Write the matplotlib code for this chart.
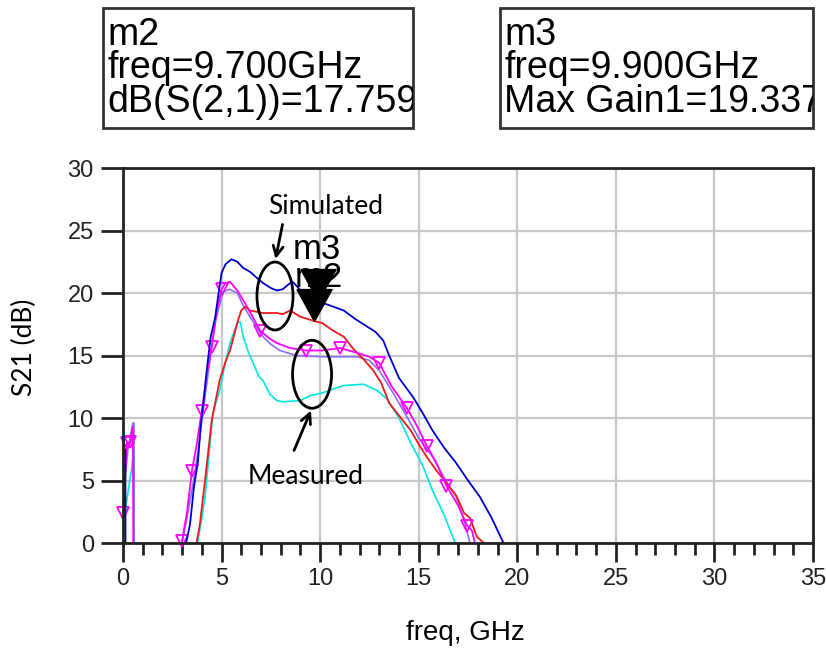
import numpy as np
import matplotlib.pyplot as plt
from matplotlib.patches import Ellipse, Rectangle
from matplotlib.path import Path
from matplotlib.transforms import Bbox, TransformedBbox

# values (freq in GHz, gain in dB); -10 = below the axis
blue_f = [0.0, 0.02, 0.12, 0.14, 3.1, 3.2, 3.4, 3.6, 3.8, 3.95, 4.1, 4.26, 4.45, 4.67, 4.85,
          5.0, 5.2, 5.5, 5.8, 6.1, 6.44, 6.8, 7.1, 7.5, 7.8, 8.1, 8.4, 8.6, 8.85, 9.1, 9.5,
          9.9, 10.5, 11.2, 11.8, 12.4, 12.8, 13.2, 13.5, 14.0, 14.7, 15.2, 15.7, 16.3, 16.9,
          17.5, 18.1, 18.7, 19.3, 19.4]
blue_db = [-10, 1.5, 7.5, -10, -10, 0.0, 1.5, 4.5, 6.5, 9.5, 11.5, 14.0, 16.5, 18.0, 20.0,
           21.6, 22.3, 22.7, 22.5, 22.0, 21.7, 21.2, 20.8, 20.4, 20.2, 20.3, 20.7, 20.9, 20.5, 20.0, 19.6,
           19.33, 19.0, 18.6, 17.9, 17.3, 16.9, 16.2, 15.0, 13.2, 11.7, 10.4, 9.0, 7.6, 6.4,
           5.0, 3.7, 2.0, 0.0, -10]

red_f = [3.7, 3.75, 3.9, 4.16, 4.5, 4.9, 5.2, 5.43, 5.83, 6.0, 6.19, 6.44, 7.1, 7.8, 8.1,
         8.47, 9.0, 9.7, 10.1, 10.65, 11.2, 11.7, 12.2, 12.7, 13.1, 13.5, 14.0, 14.6, 15.0,
         15.4, 15.9, 16.4, 16.9, 17.3, 17.6, 17.95, 18.3, 18.4]
red_db = [-10, 0.2, 1.5, 5.0, 9.8, 13.0, 14.5, 15.4, 17.8, 18.6, 18.9, 18.6, 18.4, 18.4, 18.3,
          18.6, 18.1, 17.76, 17.6, 17.0, 16.5, 15.5, 14.7, 13.8, 12.8, 11.2, 10.2, 9.0, 7.9,
          6.9, 5.8, 4.8, 3.8, 2.4, 2.0, 0.5, 0.0, -10]

mag_f = [0.0, 0.2, 0.38, 0.5, 0.55, 2.95, 3.0, 3.25, 3.5, 3.75, 4.0, 4.25, 4.5, 4.75, 5.0,
         5.2, 5.43, 5.8, 6.3, 6.95, 7.4, 7.8, 8.47, 9.3, 10.1, 11.0, 11.9, 12.5, 13.0, 13.6,
         14.4, 14.9, 15.4, 15.9, 16.4, 17.0, 17.45, 17.7, 17.85, 17.95]
mag_db = [2.4, 8.0, 8.1, 9.3, -10, -10, 0.2, 2.5, 5.8, 8.0, 10.6, 13.5, 15.7, 18.5, 20.3,
          20.8, 20.9, 20.2, 18.9, 17.0, 16.4, 16.0, 15.6, 15.4, 15.4, 15.6, 15.2, 14.9, 14.4, 12.6,
          10.8, 9.4, 7.8, 6.4, 4.6, 3.0, 1.4, 1.0, 0.0, -10]
mag_marks = [0, 1, 2, 6, 8, 10, 12, 14, 19, 23, 25, 28, 30, 32, 34, 36]

pur_f = [0.0, 0.25, 0.5, 0.56, 0.57, 2.9, 3.0, 3.3, 3.65, 3.9, 4.1, 4.4, 4.7, 5.07, 5.4,
         5.8, 6.1, 6.44, 7.1, 7.5, 7.96, 8.8, 10.1, 11.9, 12.5, 13.0, 13.7, 14.4, 15.0, 15.7,
         16.3, 16.9, 17.3, 17.6, 17.7]
pur_db = [3.4, 7.5, 9.6, 9.6, -10, -10, 0.0, 2.5, 5.6, 8.5, 11.0, 14.5, 17.8, 20.1, 20.3,
          20.0, 19.0, 18.1, 16.5, 15.9, 15.4, 15.0, 14.9, 14.9, 14.6, 13.8, 12.0, 10.1, 8.4, 6.9,
          5.2, 3.7, 1.8, 0.0, -10]

cyan_f = [0.0, 0.2, 0.45, 0.55, 0.57, 3.7, 3.8, 4.0, 4.16, 4.36, 4.56, 4.9, 5.2, 5.43, 5.8,
          5.95, 6.1, 6.35, 6.6, 6.9, 7.1, 7.45, 7.8, 8.1, 9.0, 9.5, 10.1, 10.6, 11.2, 12.2,
          12.9, 13.4, 14.0, 14.6, 15.2, 15.7, 16.3, 16.85, 16.95]
cyan_db = [1.3, 3.5, 6.1, 7.5, -10, -10, 0.2, 2.0, 3.7, 7.0, 10.4, 12.2, 14.5, 16.0, 17.6,
           17.7, 16.5, 15.3, 14.4, 13.3, 13.0, 11.9, 11.4, 11.3, 11.4, 11.8, 12.0, 12.3, 12.6, 12.7,
           12.2, 11.5, 10.0, 8.0, 6.2, 4.2, 2.2, 0.0, -10]

m2_f, m2_db = [9.7], [17.759]
m3_f, m3_db = [9.9], [19.33]

m2_lines = ["m2", "freq=9.700GHz", "dB(S(2,1))=17.759"]
m3_lines = ["m3", "freq=9.900GHz", "Max Gain1=19.337"]

fig = plt.figure(figsize=(8.26, 6.54), dpi=100)
ax = fig.add_axes([0.1489, 0.1697, 0.8354, 0.5734])

ax.plot(cyan_f, cyan_db, color='#00e5e5', lw=1.2)
ax.plot(pur_f, pur_db, color='#8a6ef0', lw=1.2)
ax.plot(red_f, red_db, color='#f01818', lw=1.3)
ax.plot(mag_f, mag_db, color='#ff00ff', lw=1.3)
ax.plot(np.array(mag_f)[mag_marks], np.array(mag_db)[mag_marks], 'v', ms=9,
        mfc='none', mec='#ff00ff', mew=1.3, clip_on=False)
ax.plot(blue_f, blue_db, color='#0000d0', lw=1.3)

# marker triangles with apex on the data point
tri = Path([(-0.55, 1.0), (0.55, 1.0), (0.0, 0.0), (-0.55, 1.0)])
ax.annotate('m3', (m3_f[0], m3_db[0]), xytext=(-1, 37), textcoords='offset points',
            ha='center', va='center', fontsize=25, family='Liberation Sans', zorder=5)
ax.annotate('m2', (m2_f[0], m2_db[0]), xytext=(3, 31), textcoords='offset points',
            ha='center', va='center', fontsize=25, family='Liberation Sans', zorder=5)
ax.plot(m2_f, m2_db, marker=tri, ms=46, color='black', ls='none', zorder=6)
ax.plot(m3_f, m3_db, marker=tri, ms=46, color='black', ls='none', zorder=6)

# annotations
ax.add_patch(Ellipse((7.71, 19.76), 1.83, 5.44, fill=False, lw=2, ec='black', zorder=7))
ax.add_patch(Ellipse((9.59, 13.5), 1.98, 5.44, fill=False, lw=2, ec='black', zorder=7))
ax.text(10.3, 26.9, 'Simulated', ha='center', va='center', fontsize=19, family='Lato')
ax.text(9.28, 5.3, 'Measured', ha='center', va='center', fontsize=19, family='Lato')
ax.annotate('', xy=(7.71, 22.5), xytext=(8.12, 25.7),
            arrowprops=dict(arrowstyle='->', lw=2, color='black', mutation_scale=18))
ax.annotate('', xy=(9.59, 10.8), xytext=(8.62, 7.2),
            arrowprops=dict(arrowstyle='->', lw=2, color='black', mutation_scale=18))

ax.set_xlim(0, 35)
ax.set_ylim(0, 30)
ax.set_xticks(range(0, 36, 5))
ax.set_xticks(range(0, 36), minor=True)
ax.set_yticks(range(0, 31, 5))
ax.grid(True, which='major', color='#c8c8c8', lw=1.6)
ax.set_axisbelow(True)
for s in ax.spines.values():
    s.set_linewidth(2)
    s.set_color('#222222')
ax.tick_params(axis='x', which='major', direction='out', length=14, width=2, pad=4,
               color='#222222', labelsize=17)
ax.tick_params(axis='x', which='minor', direction='out', length=8.5, width=2, color='#222222')
ax.tick_params(axis='y', which='major', direction='out', length=16, width=2, pad=5,
               color='#222222', labelsize=17)
for lab in ax.get_xticklabels() + ax.get_yticklabels():
    lab.set_family('Liberation Sans')
    lab.set_color('#222222')

ax.set_xlabel('freq, GHz', fontsize=20, family='Liberation Sans')
ax.set_ylabel('S21 (dB)', fontsize=19, family='Lato')
ax.xaxis.set_label_coords(0.4957, -0.205)
ax.yaxis.set_label_coords(-0.125, 0.523)

# marker readout boxes
def readout(x0, x1, lines):
    y0, y1 = 1 - 128 / 654, 1 - 8 / 654
    fig.add_artist(Rectangle((x0, y0), x1 - x0, y1 - y0, transform=fig.transFigure,
                             fill=False, lw=2, ec='#333333'))
    clip = TransformedBbox(Bbox.from_extents(x0, y0, x1, y1), fig.transFigure)
    for txt, base in zip(lines, [45, 78, 112]):
        t = fig.text(x0 + 4 / 826, 1 - base / 654, txt, fontsize=27,
                     family='Liberation Sans', va='baseline', ha='left')
        t.set_clip_box(clip)
        t.set_clip_on(True)

readout(103 / 826, 413 / 826, m2_lines)
readout(500 / 826, 813 / 826, m3_lines)

fig.savefig('out.png', dpi=100)
